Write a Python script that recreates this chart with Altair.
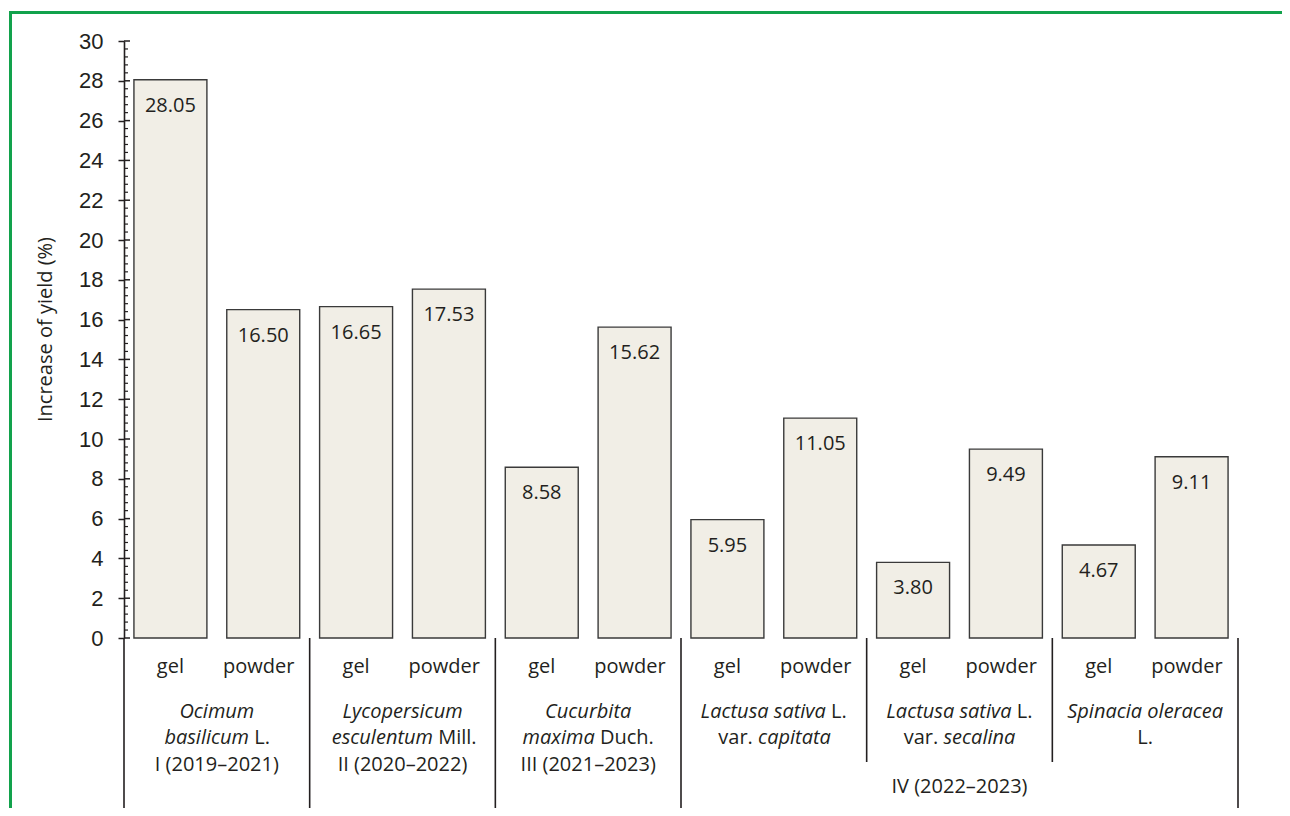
import altair as alt
import pandas as pd

# ---------------- data ----------------
treatments = ["gel", "powder"] * 6
yield_increase = [28.05, 16.50, 16.65, 17.53, 8.58, 15.62, 5.95, 11.05, 3.80, 9.49, 4.67, 9.11]
species_lines = [
    [[("Ocimum", "italic")], [("basilicum", "italic"), ("L.", "normal")], [("I (2019–2021)", "normal")]],
    [[("Lycopersicum", "italic")], [("esculentum", "italic"), ("Mill.", "normal")], [("II (2020–2022)", "normal")]],
    [[("Cucurbita", "italic")], [("maxima", "italic"), ("Duch.", "normal")], [("III (2021–2023)", "normal")]],
    [[("Lactusa sativa", "italic"), ("L.", "normal")], [("var.", "normal"), ("capitata", "italic")]],
    [[("Lactusa sativa", "italic"), ("L.", "normal")], [("var.", "normal"), ("secalina", "italic")]],
    [[("Spinacia oleracea", "italic")], [("L.", "normal")]],
]
period_label = "IV (2022–2023)"
period_groups = [3, 4, 5]
y_major = list(range(0, 31, 2))
y_minor = [round(0.4 * k, 1) for k in range(76) if k % 5 != 0]

# ---------------- layout ----------------
W, H = 1114, 597
N = len(yield_increase)
STEP = W / N
FS = 20
FONT = "Open Sans"
INK = "#231f20"
ROW_Y = {"treat": 626, 0: 671, 1: 697, 2: 724, "period": 746}
RULE_TOP, RULE_LONG, RULE_SHORT = H, 769, 721

ADV = {' ': 532, '.': 545, '(': 594, ')': 594, '–': 1024, 'I': 621, 'L': 1028, 'M': 1853,
       'D': 1466, 'V': 1208, 'C': 1292, 'S': 1126,
       'a': 1139, 'b': 1255, 'c': 975, 'd': 1255, 'e': 1149, 'f': 694, 'g': 1108, 'h': 1257,
       'i': 518, 'j': 518, 'k': 1075, 'l': 518, 'm': 1905, 'n': 1257, 'o': 1237, 'p': 1255,
       'q': 1255, 'r': 836, 's': 977, 't': 723, 'u': 1257, 'v': 1026, 'w': 1593, 'x': 1073,
       'y': 1028, 'z': 977}


def text_w(s, style):
    u = sum(ADV.get(c, 1171) for c in s)
    return u / 2048 * FS * (0.96 if style == "italic" else 1.0)


# bars table
bars = pd.DataFrame({
    "slot": list(range(N)),
    "treatment": treatments,
    "value": yield_increase,
})
bars["label"] = bars["value"].map(lambda v: f"{v:.2f}")
bars["x0"] = bars["slot"] + 0.107
bars["x1"] = bars["slot"] + 0.893
bars["xc"] = bars["slot"] + 0.5
bars["base"] = 0.0

# text fragments below the axis
frags = []
for i, t in enumerate(treatments):
    shift = -0.05 if t == "powder" else 0.0
    frags.append(dict(text=t, style="normal", align="center", x=i + 0.5 + shift, row="treat"))
for g, lines in enumerate(species_lines):
    c = 2 * g + 1
    for j, parts in enumerate(lines):
        if len(parts) == 1:
            frags.append(dict(text=parts[0][0], style=parts[0][1], align="center", x=c, row=j))
        else:
            (ta, sa), (tb, sb) = parts
            wa, wb = text_w(ta, sa), text_w(tb, sb)
            sp = 532 / 2048 * FS
            junction = -(wa + sp + wb) / 2 + wa
            frags.append(dict(text=ta, style=sa, align="right", x=c + junction / STEP, row=j))
            frags.append(dict(text=tb, style=sb, align="left", x=c + (junction + sp) / STEP, row=j))
pc = (2 * period_groups[0] + 2 * period_groups[-1] + 2) / 2
frags.append(dict(text=period_label, style="normal", align="center", x=pc, row="period"))
frags = pd.DataFrame(frags)

# dividers
divs = []
for b in range(0, 2 * len(species_lines) + 1, 2):
    left_g, right_g = b // 2 - 1, b // 2
    short = left_g in period_groups and right_g in period_groups
    divs.append(dict(x=b, kind="short" if short else "long"))
divs = pd.DataFrame(divs)

xscale = alt.Scale(domain=[0, N], nice=False, zero=False)
yscale = alt.Scale(domain=[0, 30], nice=False)

bar_layer = alt.Chart(bars).mark_rect(fill="#f1eee6", stroke="#3a3a3a", strokeWidth=1.4).encode(
    x=alt.X("x0:Q", scale=xscale,
            axis=alt.Axis(domain=True, domainColor=INK, domainWidth=1.6, ticks=False,
                          labels=False, grid=False, title=None)),
    x2="x1:Q",
    y=alt.Y("value:Q", scale=yscale,
            axis=alt.Axis(orient="left", values=y_major, tickSize=6, tickWidth=1.5, tickColor=INK,
                          domainColor=INK, domainWidth=1.6, labelFont="Liberation Sans",
                          labelFontSize=22, labelColor=INK, labelPadding=15, grid=False,
                          title="Increase of yield (%)", titleFont=FONT, titleFontSize=20,
                          titleFontWeight="normal", titleColor=INK, titleX=-79, titleY=288,
                          titleBaseline="middle", titleAngle=270)),
    y2="base:Q",
)

value_layer = alt.Chart(bars).mark_text(font=FONT, fontSize=FS, color=INK, baseline="middle", dy=26).encode(
    x=alt.X("xc:Q", scale=xscale, axis=None),
    y=alt.Y("value:Q", scale=yscale, axis=None),
    text="label:N",
)

# inner parts of the axis ticks (major ticks cross the axis, minor ticks sit inside)
major_in = alt.Chart(pd.DataFrame({"v": y_major})).mark_rule(color=INK, strokeWidth=1.5).encode(
    y=alt.Y("v:Q", scale=yscale, axis=None), x=alt.value(0), x2=alt.value(6),
)
minor_in = alt.Chart(pd.DataFrame({"v": y_minor})).mark_rule(color=INK, strokeWidth=1.2).encode(
    y=alt.Y("v:Q", scale=yscale, axis=None), x=alt.value(0), x2=alt.value(4),
)

layers = [bar_layer, value_layer, major_in, minor_in]

for kind, yend in [("long", RULE_LONG), ("short", RULE_SHORT)]:
    d = divs[divs["kind"] == kind]
    layers.append(
        alt.Chart(d).mark_rule(color=INK, strokeWidth=1.6).encode(
            x=alt.X("x:Q", scale=xscale, axis=None),
            y=alt.value(RULE_TOP), y2=alt.value(yend),
        )
    )

for (row, style, align), d in frags.groupby(["row", "style", "align"], sort=False):
    layers.append(
        alt.Chart(d.reset_index(drop=True)).mark_text(
            font=FONT, fontSize=FS, color=INK, fontStyle=style, align=align, baseline="middle"
        ).encode(
            x=alt.X("x:Q", scale=xscale, axis=None),
            y=alt.value(ROW_Y[row]),
            text="text:N",
        )
    )

frame = alt.Chart(alt.Data(values=[{"a": 1}])).mark_rect(
    fill=None, stroke="#12a24c", strokeWidth=3
).encode(
    x=alt.value(-113.5), x2=alt.value(1300), y=alt.value(-28.5), y2=alt.value(900),
)
layers.append(frame)

chart = alt.layer(*layers).resolve_axis(y="independent").properties(
    width=W, height=H,
    autosize=alt.AutoSizeParams(type="none"),
    padding={"left": 116, "top": 33, "right": 44, "bottom": 170},
    background="white",
).configure_view(stroke=None)

chart.save("out.html", embed_options={"renderer": "svg", "actions": False})
